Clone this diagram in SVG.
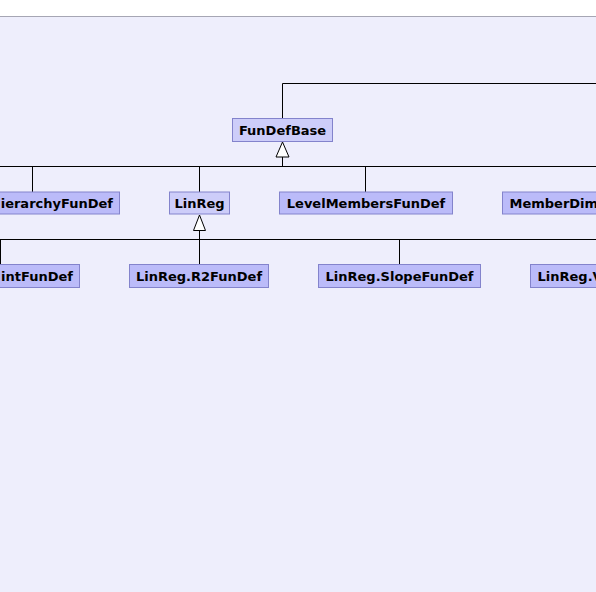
<svg xmlns="http://www.w3.org/2000/svg" width="596" height="592" viewBox="0 0 596 592">
<style>
.bg{fill:#eeeefc}
.node rect{fill:#bbbbf9;stroke:#8383cc;stroke-width:1}
.node.hl rect{fill:#cdcdf9}
.node text{font-family:"DejaVu Sans",sans-serif;font-weight:bold;font-size:13px;fill:#000}
.c{fill:none;stroke:#000;stroke-width:1}
.tri{fill:#fff;stroke:#000;stroke-width:1}
</style>
<rect x="0" y="0" width="596" height="592" fill="#ffffff"/>
<rect class="bg" x="0" y="17" width="596" height="575"/>
<line x1="0" y1="16.5" x2="596" y2="16.5" stroke="#a6a6b4" stroke-width="1"/>
<g id="connectors">
<path class="c" d="M282.5,118.5 V83.5 H597"/>
<path class="c" d="M282.5,157 V166.5 M-1,166.5 H597 M32.5,166.5 V192 M199.5,166.5 V192 M365.5,166.5 V192"/>
<polygon class="tri" points="282.5,142 276,157 289,157"/>
<path class="c" d="M199.5,230.5 V239.5 M-1,239.5 H597 M0.5,239.5 V264.5 M199.5,239.5 V264.5 M399.5,239.5 V264.5"/>
<polygon class="tri" points="199.5,215 193.5,230.5 205.5,230.5"/>
</g>
<g id="FunDefBase" class="node hl"><rect x="232.5" y="118.5" width="100" height="23"/><text x="282.5" y="135" text-anchor="middle">FunDefBase</text></g>
<g id="HierarchyFunDef" class="node"><rect x="-60" y="192" width="179.5" height="22"/><text x="113" y="208" text-anchor="end">ierarchyFunDef</text></g>
<g id="LinReg" class="node hl"><rect x="169.5" y="192" width="60" height="22"/><text x="199.5" y="208" text-anchor="middle">LinReg</text></g>
<g id="LevelMembersFunDef" class="node"><rect x="279.5" y="192" width="173" height="22"/><text x="366" y="208" text-anchor="middle">LevelMembersFunDef</text></g>
<g id="MemberDim" class="node"><rect x="502.5" y="192" width="110" height="22"/><text x="509.5" y="208">MemberDim</text></g>
<g id="PointFunDef" class="node"><rect x="-80" y="264.5" width="159.5" height="23"/><text x="73" y="281" text-anchor="end">intFunDef</text></g>
<g id="LinReg.R2FunDef" class="node"><rect x="129.5" y="264.5" width="139" height="23"/><text x="199" y="281" text-anchor="middle">LinReg.R2FunDef</text></g>
<g id="LinReg.SlopeFunDef" class="node"><rect x="318.5" y="264.5" width="162" height="23"/><text x="399.5" y="281" text-anchor="middle">LinReg.SlopeFunDef</text></g>
<g id="LinReg.V" class="node"><rect x="530.5" y="264.5" width="100" height="23"/><text x="537.5" y="281">LinReg.V</text></g>
</svg>
